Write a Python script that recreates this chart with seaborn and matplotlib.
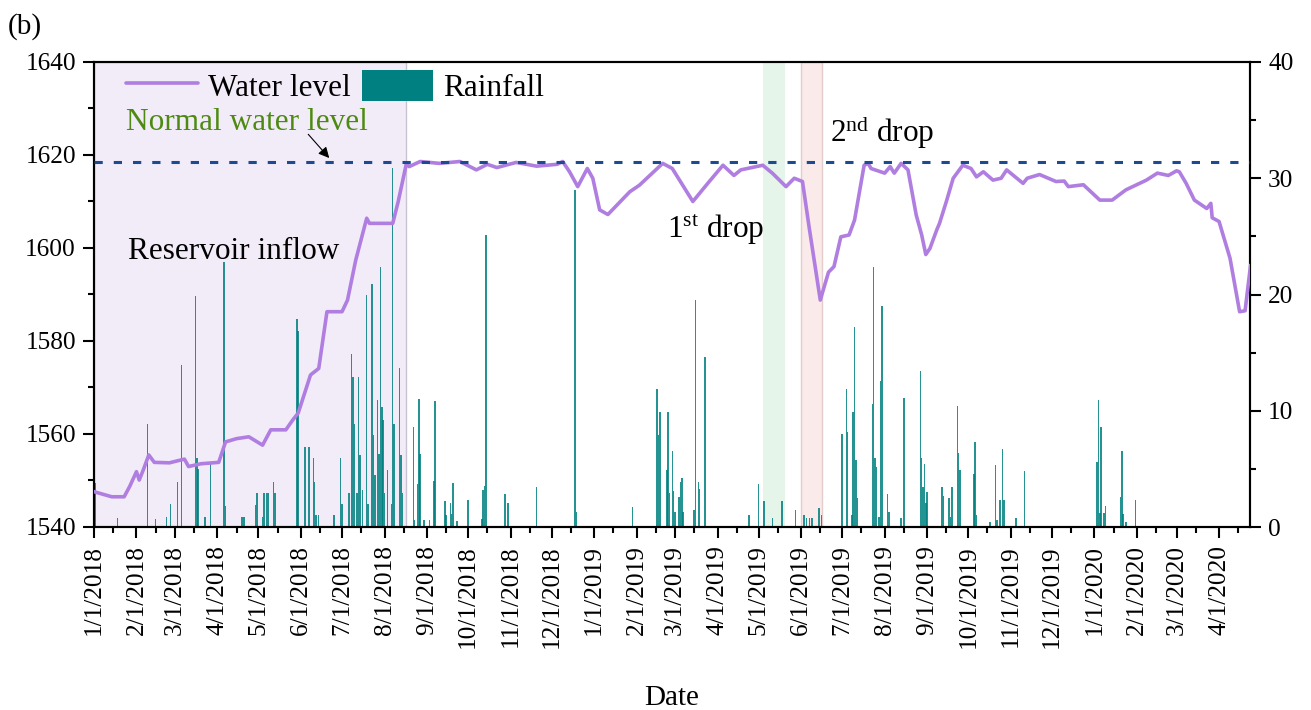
import matplotlib
matplotlib.use("Agg")
import matplotlib.pyplot as plt
import matplotlib.dates as mdates
from matplotlib.lines import Line2D
from matplotlib.patches import Patch
from matplotlib.ticker import MultipleLocator, FuncFormatter
import pandas as pd
import seaborn as sns

# ---- reservoir water level (m) ----
level_dates = [
    "2018-01-01", "2018-01-08", "2018-01-14", "2018-01-23", "2018-01-27", "2018-02-01",
    "2018-02-03", "2018-02-06", "2018-02-10", "2018-02-14", "2018-02-25", "2018-03-08",
    "2018-03-11", "2018-03-20", "2018-04-02", "2018-04-07", "2018-04-15", "2018-04-24",
    "2018-05-04", "2018-05-10", "2018-05-21", "2018-05-26", "2018-05-30", "2018-06-08",
    "2018-06-14", "2018-06-20", "2018-07-01", "2018-07-05", "2018-07-11", "2018-07-19",
    "2018-07-21", "2018-08-07", "2018-08-11", "2018-08-17", "2018-08-19", "2018-08-27",
    "2018-09-10", "2018-09-25", "2018-10-07", "2018-10-15", "2018-10-22", "2018-11-05",
    "2018-11-20", "2018-12-05", "2018-12-09", "2018-12-14", "2018-12-20", "2018-12-27",
    "2018-12-31", "2019-01-05", "2019-01-11", "2019-01-27", "2019-02-03", "2019-02-20",
    "2019-02-27", "2019-03-14", "2019-03-26", "2019-04-05", "2019-04-13", "2019-04-18",
    "2019-05-04", "2019-05-11", "2019-05-21", "2019-05-27", "2019-06-02", "2019-06-07",
    "2019-06-15", "2019-06-21", "2019-06-25", "2019-06-30", "2019-07-06", "2019-07-10",
    "2019-07-17", "2019-07-20", "2019-07-22", "2019-08-01", "2019-08-05", "2019-08-08",
    "2019-08-13", "2019-08-18", "2019-08-24", "2019-08-28", "2019-08-31", "2019-09-03",
    "2019-09-08", "2019-09-10", "2019-09-15", "2019-09-20", "2019-09-27", "2019-10-03",
    "2019-10-07", "2019-10-12", "2019-10-19", "2019-10-25", "2019-10-29", "2019-11-10",
    "2019-11-13", "2019-11-22", "2019-12-04", "2019-12-10", "2019-12-13", "2019-12-24",
    "2020-01-05", "2020-01-14", "2020-01-24", "2020-02-08", "2020-02-16", "2020-02-24",
    "2020-03-01", "2020-03-03", "2020-03-08", "2020-03-14", "2020-03-23", "2020-03-26",
    "2020-03-27", "2020-04-01", "2020-04-09", "2020-04-16", "2020-04-20", "2020-04-24",
]
level_values = [
    1547.6, 1547.0, 1546.5, 1546.5, 1548.7, 1551.9,
    1550.1, 1552.3, 1555.5, 1553.9, 1553.8, 1554.6,
    1553.0, 1553.6, 1553.9, 1558.3, 1559.0, 1559.4,
    1557.6, 1560.9, 1560.9, 1563.0, 1564.5, 1572.7,
    1574.1, 1586.3, 1586.3, 1588.8, 1597.4, 1606.4,
    1605.3, 1605.3, 1610.0, 1618.2, 1617.5, 1618.6,
    1618.2, 1618.6, 1616.8, 1618.0, 1617.3, 1618.4,
    1617.6, 1618.0, 1618.6, 1616.4, 1613.2, 1617.1,
    1615.0, 1608.2, 1607.2, 1612.1, 1613.5, 1618.2,
    1617.1, 1610.0, 1614.3, 1617.8, 1615.6, 1616.8,
    1617.8, 1616.1, 1613.2, 1615.0, 1614.3, 1604.2,
    1588.8, 1594.8, 1596.0, 1602.4, 1602.8, 1606.0,
    1617.8, 1618.2, 1617.1, 1616.1, 1617.5, 1616.1,
    1618.2, 1616.8, 1607.1, 1602.8, 1598.6, 1599.9,
    1603.9, 1605.3, 1610.0, 1615.0, 1617.8, 1617.1,
    1615.3, 1616.4, 1614.6, 1615.0, 1616.8, 1613.9,
    1615.0, 1615.8, 1614.3, 1614.4, 1613.2, 1613.6,
    1610.3, 1610.3, 1612.5, 1614.6, 1616.1, 1615.6,
    1616.6, 1616.4, 1613.9, 1610.3, 1608.5, 1609.6,
    1606.5, 1605.7, 1597.8, 1586.3, 1586.5, 1596.3,
]

# ---- daily rainfall (mm) ----
rain_dates = [
    "2018-01-02", "2018-01-18", "2018-02-09", "2018-02-15", "2018-02-23", "2018-02-26",
    "2018-03-03", "2018-03-06", "2018-03-16", "2018-03-17", "2018-03-18", "2018-03-23",
    "2018-03-27", "2018-04-06", "2018-04-07", "2018-04-19", "2018-04-20", "2018-04-21",
    "2018-04-29", "2018-04-30", "2018-05-04", "2018-05-05", "2018-05-07", "2018-05-08",
    "2018-05-12", "2018-05-13", "2018-05-29", "2018-05-30", "2018-06-04", "2018-06-07",
    "2018-06-10", "2018-06-11", "2018-06-12", "2018-06-14", "2018-06-25", "2018-06-30",
    "2018-07-01", "2018-07-06", "2018-07-08", "2018-07-09", "2018-07-10", "2018-07-12",
    "2018-07-13", "2018-07-14", "2018-07-16", "2018-07-19", "2018-07-20", "2018-07-23",
    "2018-07-24", "2018-07-25", "2018-07-27", "2018-07-28", "2018-07-29", "2018-07-30",
    "2018-07-31", "2018-08-01", "2018-08-03", "2018-08-06", "2018-08-07", "2018-08-08",
    "2018-08-12", "2018-08-13", "2018-08-14", "2018-08-22", "2018-08-23", "2018-08-25",
    "2018-08-26", "2018-08-27", "2018-08-30", "2018-09-03", "2018-09-06", "2018-09-07",
    "2018-09-14", "2018-09-15", "2018-09-18", "2018-09-19", "2018-09-20", "2018-09-23",
    "2018-10-01", "2018-10-11", "2018-10-12", "2018-10-13", "2018-10-14", "2018-10-28",
    "2018-10-30", "2018-11-20", "2018-12-18", "2018-12-19", "2019-01-29", "2019-02-16",
    "2019-02-17", "2019-02-18", "2019-02-23", "2019-02-24", "2019-02-25", "2019-02-27",
    "2019-02-28", "2019-03-01", "2019-03-04", "2019-03-05", "2019-03-06", "2019-03-07",
    "2019-03-15", "2019-03-16", "2019-03-18", "2019-03-19", "2019-03-23", "2019-04-24",
    "2019-05-01", "2019-05-05", "2019-05-11", "2019-05-18", "2019-05-28", "2019-06-03",
    "2019-06-05", "2019-06-07", "2019-06-09", "2019-06-14", "2019-06-16", "2019-07-01",
    "2019-07-04", "2019-07-05", "2019-07-08", "2019-07-09", "2019-07-10", "2019-07-11",
    "2019-07-12", "2019-07-23", "2019-07-24", "2019-07-25", "2019-07-26", "2019-07-28",
    "2019-07-29", "2019-07-30", "2019-08-03", "2019-08-04", "2019-08-13", "2019-08-15",
    "2019-08-27", "2019-08-28", "2019-08-29", "2019-08-30", "2019-08-31", "2019-09-01",
    "2019-09-12", "2019-09-13", "2019-09-17", "2019-09-18", "2019-09-19", "2019-09-23",
    "2019-09-24", "2019-09-25", "2019-10-05", "2019-10-06", "2019-10-07", "2019-10-17",
    "2019-10-21", "2019-10-22", "2019-10-24", "2019-10-26", "2019-10-27", "2019-11-05",
    "2019-11-11", "2020-01-03", "2020-01-04", "2020-01-05", "2020-01-06", "2020-01-08",
    "2020-01-09", "2020-01-20", "2020-01-21", "2020-01-22", "2020-01-24", "2020-01-31",
]
rain_values = [
    3.8, 0.8, 8.9, 0.7, 0.9, 2.0,
    3.9, 13.9, 19.9, 5.9, 5.0, 0.9,
    5.5, 22.8, 1.8, 0.9, 0.9, 0.9,
    1.9, 2.9, 0.9, 2.9, 2.9, 2.9,
    3.9, 2.9, 17.9, 16.9, 6.9, 6.9,
    5.9, 3.9, 1.0, 1.0, 1.0, 5.9,
    2.0, 2.9, 14.9, 12.9, 8.9, 2.9,
    12.9, 6.2, 3.2, 20.0, 2.0, 20.9,
    7.9, 4.5, 10.9, 6.3, 22.4, 10.3,
    9.2, 2.9, 4.9, 2.0, 30.9, 8.9,
    13.7, 6.2, 2.9, 8.6, 0.6, 3.7,
    11.0, 6.3, 0.6, 0.6, 4.0, 10.8,
    2.2, 1.0, 2.1, 1.1, 3.8, 0.5,
    2.3, 0.7, 3.2, 3.5, 25.1, 2.8,
    2.1, 3.4, 29.0, 1.3, 1.7, 11.9,
    7.9, 9.9, 4.9, 9.9, 2.9, 6.5,
    3.1, 1.3, 2.6, 3.9, 4.2, 1.3,
    1.5, 19.5, 3.9, 3.3, 14.6, 1.0,
    3.7, 2.2, 0.8, 2.2, 1.5, 1.0,
    0.8, 0.8, 0.8, 1.6, 1.0, 8.0,
    11.9, 8.2, 1.0, 9.9, 17.2, 5.8,
    2.5, 10.6, 22.4, 5.9, 5.2, 0.9,
    12.6, 19.0, 2.8, 1.3, 0.8, 11.1,
    13.4, 5.9, 3.4, 5.4, 2.1, 3.0,
    3.4, 2.7, 2.5, 0.9, 3.4, 10.4,
    6.4, 4.9, 4.6, 7.3, 1.0, 0.4,
    5.3, 0.6, 2.3, 6.7, 2.3, 0.8,
    4.8, 5.6, 10.9, 1.2, 8.6, 1.2,
    1.8, 2.6, 6.5, 1.1, 0.4, 2.3,
]

normal_level = 1618.6

# highlighted periods
inflow_period = ("2018-01-01", "2018-08-17")
first_drop_period = ("2019-05-04", "2019-05-20")
second_drop_period = ("2019-06-01", "2019-06-16")

LINE_COLOR = "#b07ee0"
RAIN_COLOR = "#008080"

sns.set_style("ticks")
plt.rcParams["font.family"] = ["Liberation Serif", "DejaVu Serif"]
plt.rcParams["mathtext.fontset"] = "custom"
plt.rcParams["mathtext.rm"] = "Liberation Serif"
plt.rcParams["mathtext.it"] = "Liberation Serif:italic"
for key in ("text.color", "axes.labelcolor", "xtick.color", "ytick.color", "axes.edgecolor"):
    plt.rcParams[key] = "black"

fig = plt.figure(figsize=(13.11, 7.10), dpi=100)
ax1 = fig.add_axes([94 / 1311, 1 - 527 / 710, 1156 / 1311, 465 / 710])
ax2 = ax1.twinx()
ax1.set_zorder(ax2.get_zorder() + 1)
ax1.patch.set_visible(False)

to_dt = pd.to_datetime

# shaded periods (behind the rainfall bars)
ax2.axvspan(to_dt(inflow_period[0]), to_dt(inflow_period[1]), facecolor="#f2ecf9",
            edgecolor="#c9c2d2", linewidth=1.0, zorder=0)
ax2.axvspan(to_dt(first_drop_period[0]), to_dt(first_drop_period[1]), facecolor="#e5f5ea",
            edgecolor="none", zorder=0)
ax2.axvspan(to_dt(second_drop_period[0]), to_dt(second_drop_period[1]), facecolor="#fbeaea",
            edgecolor="#e3cccc", linewidth=1.0, zorder=0)

# rainfall bars on the right axis
ax2.bar(to_dt(rain_dates), rain_values, width=1.1, color=RAIN_COLOR, alpha=0.85,
        linewidth=0, zorder=2)

# water level on the left axis
level_df = pd.DataFrame({"date": to_dt(level_dates), "level": level_values})
sns.lineplot(data=level_df, x="date", y="level", ax=ax1, color=LINE_COLOR,
             linewidth=2.6, legend=False, zorder=3)

ax1.axhline(normal_level, color="#1c4b92", linewidth=2.2, dashes=(2.7, 3.6), zorder=4)

# axes ranges and ticks
ax1.set_xlim(to_dt("2018-01-01"), to_dt("2020-04-23 14:00"))
ax1.set_ylim(1540, 1640)
ax2.set_ylim(0, 40)

ax1.xaxis.set_major_locator(mdates.MonthLocator())
ax1.xaxis.set_minor_locator(mdates.MonthLocator(bymonthday=15))
ax1.xaxis.set_major_formatter(FuncFormatter(
    lambda v, _: (lambda d: f"{d.month}/{d.day}/{d.year}")(mdates.num2date(v))))
ax1.yaxis.set_major_locator(MultipleLocator(20))
ax1.yaxis.set_minor_locator(MultipleLocator(10))
ax2.yaxis.set_major_locator(MultipleLocator(10))
ax2.yaxis.set_minor_locator(MultipleLocator(5))

ax1.tick_params(axis="both", which="major", direction="out", length=8, width=1.5,
                labelsize=18.2, pad=5, colors="black")
ax1.tick_params(axis="both", which="minor", direction="out", length=4.5, width=1.5,
                colors="black")
ax1.tick_params(axis="x", labelrotation=90)
ax2.tick_params(axis="y", which="major", direction="out", length=8, width=1.5,
                labelsize=18.2, pad=5, colors="black")
ax2.tick_params(axis="y", which="minor", direction="out", length=4.5, width=1.5,
                colors="black")

for ax in (ax1, ax2):
    for sp in ax.spines.values():
        sp.set_linewidth(1.5)
        sp.set_color("black")
        sp.set_visible(True)

ax1.set_ylabel("")
ax2.set_ylabel("")
ax1.set_xlabel("Date", fontsize=21, labelpad=27)

# annotations
ax1.text(to_dt("2018-01-26"), 1597.6, "Reservoir inflow", fontsize=22.5, va="baseline")
ax1.text(to_dt("2018-01-24"), 1625.4, "Normal water level", fontsize=22.5,
         color="#4e8a12", va="baseline")
ax1.annotate("", xy=(to_dt("2018-06-23"), 1618.9), xytext=(to_dt("2018-06-05"), 1624.9),
             arrowprops=dict(arrowstyle="-|>", color="black", lw=0.8, mutation_scale=16))
ax1.text(to_dt("2019-02-23"), 1602.2, r"1$^{\mathrm{st}}$ drop", fontsize=22.5, va="baseline")
ax1.text(to_dt("2019-06-22"), 1622.9, r"2$^{\mathrm{nd}}$ drop", fontsize=22.5, va="baseline")

handles = [Line2D([], [], color=LINE_COLOR, linewidth=2.6),
           Patch(facecolor=RAIN_COLOR, edgecolor="none")]
ax1.legend(handles, ["Water level", "Rainfall"], ncol=2, loc="upper left",
           bbox_to_anchor=(32 / 1156, 1 - 8 / 465), frameon=False, fontsize=22.5,
           handlelength=2.3, handleheight=1.15, handletextpad=0.32, columnspacing=0.35,
           borderpad=0, borderaxespad=0)

fig.text(8 / 1311, 1 - 27 / 710, "(b)", fontsize=21, va="center", ha="left")

fig.savefig("out.png", dpi=100, facecolor="white")
